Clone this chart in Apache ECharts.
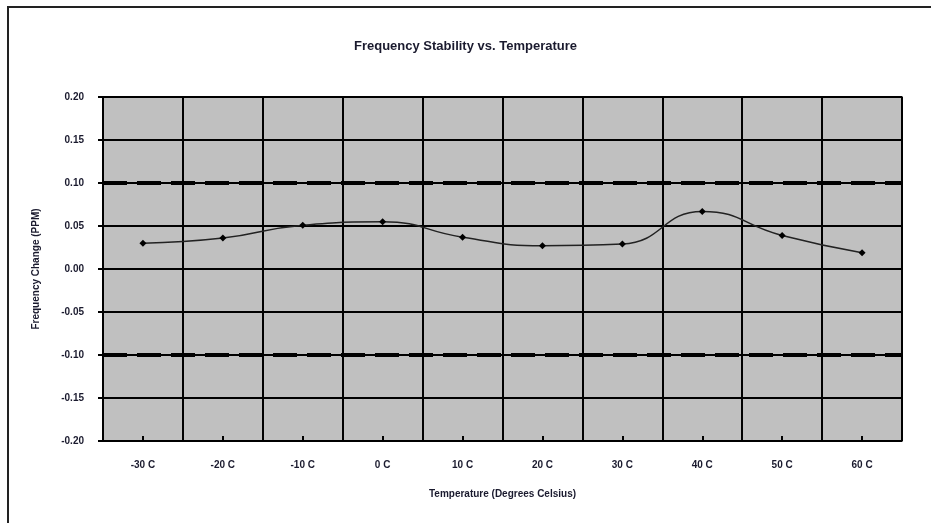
<!DOCTYPE html>
<html>
<head>
<meta charset="utf-8">
<script src="https://cdn.jsdelivr.net/npm/echarts@6/dist/echarts.min.js"></script>
<style>
  html, body { margin: 0; padding: 0; background: #fff; }
  #chart { width: 931px; height: 523px; }
</style>
</head>
<body>
<div id="chart"></div>
<script>
// temperature categories and measured drift (PPM)
const temps = ['-30 C', '-20 C', '-10 C', '0 C', '10 C', '20 C', '30 C', '40 C', '50 C', '60 C']
const drift = [0.030, 0.036, 0.051, 0.055, 0.037, 0.027, 0.029, 0.067, 0.039, 0.019]
const limits = [0.10, -0.10]

const chart = echarts.init(document.getElementById('chart'))

const labelFont = {
  fontFamily: 'Liberation Sans',
  fontWeight: 'bold',
  fontSize: 10,
  color: '#1a1a2e'
}

const option = {
  animation: false,
  backgroundColor: '#fff',
  title: {
    text: 'Frequency Stability vs. Temperature',
    left: 'center',
    top: 35,
    textStyle: {
      fontFamily: 'Liberation Sans',
      fontWeight: 'bold',
      fontSize: 13,
      color: '#1a1a2e'
    }
  },
  graphic: [{
    type: 'rect',
    shape: { x: 8, y: 7, width: 940, height: 540 },
    style: { fill: 'none', stroke: '#222', lineWidth: 2 },
    z: -1
  }],
  grid: {
    left: 103,
    right: 29,
    top: 97,
    bottom: 82,
    show: true,
    backgroundColor: '#c0c0c0',
    borderColor: '#8a8a8a',
    borderWidth: 2
  },
  xAxis: [{
    type: 'category',
    data: temps,
    boundaryGap: true,
    name: 'Temperature (Degrees Celsius)',
    nameLocation: 'middle',
    nameGap: 48,
    nameTextStyle: labelFont,
    axisLine: { lineStyle: { color: '#000', width: 2 } },
    axisTick: { show: true, length: 6, lineStyle: { color: '#000', width: 2 } },
    axisLabel: Object.assign({ margin: 19 }, labelFont),
    splitLine: { show: true, interval: 0, lineStyle: { color: '#000', width: 2 } }
  }, {
    // small ticks at the category centres
    type: 'category',
    data: temps,
    position: 'bottom',
    boundaryGap: true,
    axisLine: { show: false },
    axisTick: { show: true, alignWithLabel: true, inside: true, length: 5, lineStyle: { color: '#000', width: 2 } },
    axisLabel: { show: false },
    splitLine: { show: false }
  }],
  yAxis: {
    type: 'value',
    min: -0.2,
    max: 0.2,
    interval: 0.05,
    name: 'Frequency Change (PPM)',
    nameLocation: 'middle',
    nameGap: 62,
    nameTextStyle: labelFont,
    axisLine: { show: true, lineStyle: { color: '#000', width: 2 } },
    axisTick: { show: true, length: 5, lineStyle: { color: '#000', width: 2 } },
    axisLabel: Object.assign({ margin: 19, formatter: v => v.toFixed(2) }, labelFont),
    splitLine: { show: true, lineStyle: { color: '#000', width: 2 } }
  },
  series: [{
    name: 'Drift',
    type: 'line',
    data: drift,
    smooth: 0.5,
    symbol: 'diamond',
    symbolSize: 7,
    itemStyle: { color: '#000' },
    lineStyle: { color: '#222', width: 1.5 },
    markLine: {
      silent: true,
      symbol: 'none',
      label: { show: false },
      lineStyle: { color: '#000', width: 4, type: [24, 10], opacity: 1 },
      data: limits.map(v => ({ yAxis: v }))
    }
  }]
}

chart.setOption(option)
</script>
</body>
</html>
